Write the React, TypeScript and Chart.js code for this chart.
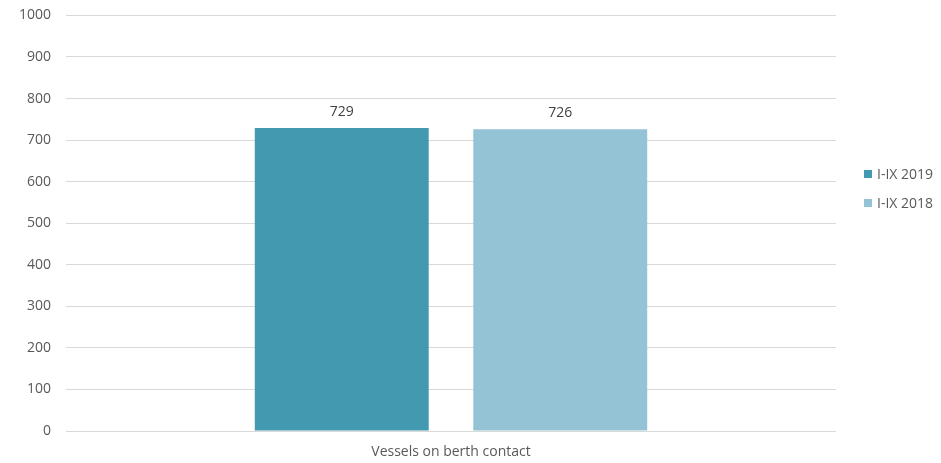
import React, { useEffect, useRef } from "react";
import { Chart, registerables } from "chart.js";

Chart.register(...registerables);

const categories = ["Vessels on berth contact"];
const seriesNames = ["I-IX 2019", "I-IX 2018"];
const values2019 = [729];
const values2018 = [726];
const colors = ["#4399B0", "#93C3D5"];
const yTicks = [0, 100, 200, 300, 400, 500, 600, 700, 800, 900, 1000];

const FONT = "'Open Sans', 'Liberation Sans', sans-serif";
const TEXT = "#595959";
const SIZE = 14;
// canvas is shifted up so the top gridline sits close to the page edge
const SHIFT = 8;

const valueLabels = {
  id: "valueLabels",
  afterDatasetsDraw(chart: any) {
    const ctx = chart.ctx;
    ctx.save();
    ctx.font = `${SIZE}px ${FONT}`;
    ctx.fillStyle = "#404040";
    ctx.textAlign = "center";
    ctx.textBaseline = "middle";
    chart.data.datasets.forEach((ds: any, i: number) => {
      const meta = chart.getDatasetMeta(i);
      meta.data.forEach((bar: any, j: number) => {
        ctx.fillText(String(ds.data[j]), bar.x, bar.y - 16);
      });
    });
    ctx.restore();
  },
};

const sideLegend = {
  id: "sideLegend",
  afterDraw(chart: any) {
    const ctx = chart.ctx;
    ctx.save();
    ctx.font = `${SIZE}px ${FONT}`;
    ctx.textBaseline = "middle";
    ctx.textAlign = "left";
    const x = chart.chartArea.right + 28;
    const y0 = 174 + SHIFT;
    const step = 29;
    chart.data.datasets.forEach((ds: any, i: number) => {
      const y = y0 + i * step;
      ctx.fillStyle = ds.backgroundColor;
      ctx.fillRect(x, y - 4, 8, 8);
      ctx.fillStyle = TEXT;
      ctx.fillText(ds.label, x + 13, y + 1);
    });
    ctx.restore();
  },
};

export default function App() {
  const ref = useRef<HTMLCanvasElement | null>(null);

  useEffect(() => {
    if (!ref.current) return;
    const chart = new Chart(ref.current, {
      type: "bar",
      data: {
        labels: categories,
        datasets: [
          { label: seriesNames[0], data: values2019, backgroundColor: colors[0] },
          { label: seriesNames[1], data: values2018, backgroundColor: colors[1] },
        ],
      },
      options: {
        animation: false,
        responsive: false,
        maintainAspectRatio: false,
        layout: { padding: { top: 6, right: 105, bottom: 0, left: 0 } },
        datasets: {
          bar: { categoryPercentage: 0.5675, barPercentage: 0.796 },
        },
        plugins: {
          legend: { display: false },
          tooltip: { enabled: false },
        },
        scales: {
          x: {
            grid: { display: false, drawTicks: false },
            border: { display: false },
            ticks: { color: TEXT, font: { family: FONT, size: SIZE }, padding: 13 },
            afterFit: (s: any) => {
              s.height = 32;
            },
          },
          y: {
            min: 0,
            max: 1000,
            afterBuildTicks: (s: any) => {
              s.ticks = yTicks.map((v) => ({ value: v }));
            },
            grid: { color: "#D9D9D9", lineWidth: 1, drawTicks: false },
            border: { display: false },
            ticks: {
              color: TEXT,
              font: { family: FONT, size: SIZE },
              padding: 15,
              callback: (v: any) => String(v),
            },
            afterFit: (s: any) => {
              s.width = 66;
            },
          },
        },
      },
      plugins: [valueLabels, sideLegend],
    });
    return () => chart.destroy();
  }, []);

  return (
    <div style={{ position: "absolute", left: 0, top: 0, width: 941, height: 463, overflow: "hidden", background: "#fff" }}>
      <canvas
        ref={ref}
        width={941}
        height={463 + SHIFT}
        style={{ display: "block", position: "absolute", left: 0, top: -SHIFT }}
      />
    </div>
  );
}
